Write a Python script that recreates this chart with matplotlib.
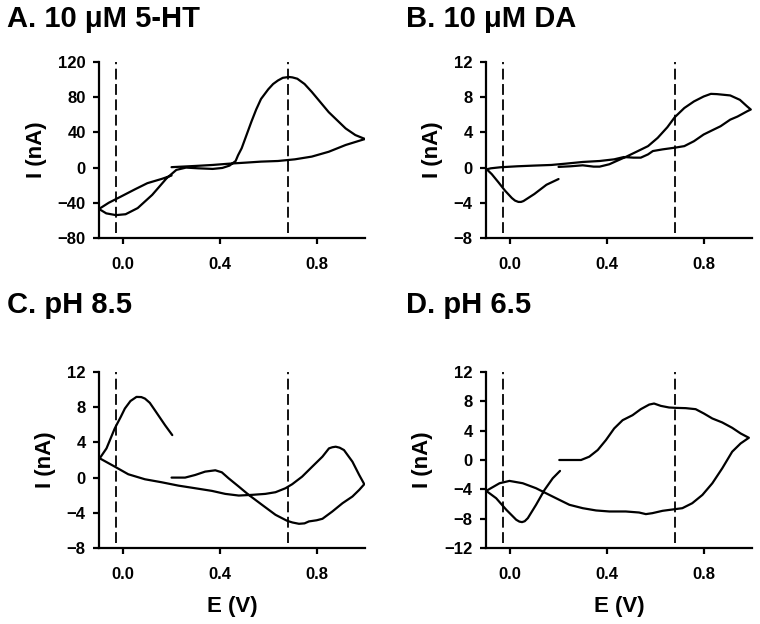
import numpy as np
import matplotlib
matplotlib.use('Agg')
import matplotlib.pyplot as plt

plt.rcParams['font.family'] = ['Liberation Sans', 'DejaVu Sans']
plt.rcParams['font.weight'] = 'bold'

# panel A: 10 uM 5-HT
e_5ht = [0.20, 0.30, 0.37, 0.44, 0.51, 0.57, 0.64, 0.71, 0.78, 0.85, 0.92, 1.00,
         0.96, 0.92, 0.85, 0.78, 0.75, 0.72, 0.70, 0.685, 0.66, 0.64, 0.62, 0.60,
         0.57, 0.55, 0.53, 0.51, 0.49, 0.475, 0.465,
         0.44, 0.41, 0.37, 0.31, 0.26, 0.22, 0.18, 0.12, 0.06, 0.01, -0.03, -0.07,
         -0.10, -0.06, -0.01, 0.05, 0.10, 0.16, 0.20]
i_5ht = [0.5, 1.9, 3.0, 4.5, 5.7, 6.8, 7.5, 9.4, 12.5, 18, 25.7, 32.5,
         37, 44.5, 63, 86, 95, 101, 102.5, 103, 102, 99, 95, 89,
         78, 66, 52, 37, 22, 14, 7.5,
         2.3, -0.4, -1.5, -0.8, 0, -2.6, -12, -31, -46, -53, -54, -52,
         -47, -40, -33, -24.5, -17.7, -12.8, -9]

# panel B: 10 uM DA
e_da = [0.20, 0.25, 0.30, 0.345, 0.37, 0.41, 0.44, 0.48, 0.52, 0.57, 0.61, 0.65,
        0.68, 0.72, 0.76, 0.80, 0.83, 0.855, 0.91, 0.95, 0.98, 0.995,
        0.98, 0.94, 0.91, 0.87, 0.84, 0.80, 0.76, 0.72, 0.68, 0.63, 0.59, 0.57,
        0.54, 0.51, 0.47, 0.43, 0.37, 0.30, 0.23, 0.17, 0.10, 0.03, -0.04, -0.08,
        -0.097, -0.076, -0.048, -0.021, 0.007, 0.02, 0.034, 0.045, 0.055, 0.10,
        0.15, 0.20]
i_da = [0.08, 0.15, 0.26, 0.11, 0.11, 0.38, 0.75, 1.24, 1.77, 2.44, 3.38, 4.59,
        5.71, 6.77, 7.52, 8.08, 8.38, 8.35, 8.2, 7.7, 6.95, 6.6,
        6.4, 5.8, 5.45, 4.7, 4.3, 3.76, 3.0, 2.44, 2.26, 2.07, 1.88, 1.5,
        1.13, 1.13, 1.2, 0.94, 0.75, 0.64, 0.45, 0.3, 0.23, 0.15, 0.04, -0.08,
        -0.19, -0.75, -1.69, -2.63, -3.46, -3.75, -3.9, -3.9, -3.8, -3.0,
        -1.95, -1.3]

# panel C: pH 8.5
e_ph85 = [0.20, 0.256, 0.298, 0.339, 0.381, 0.408, 0.436, 0.478, 0.519, 0.574, 0.63,
          0.678, 0.70, 0.727, 0.75, 0.768, 0.80, 0.824, 0.865, 0.907, 0.948, 0.976,
          0.997, 0.976, 0.948, 0.913, 0.895, 0.879, 0.865, 0.851, 0.824, 0.782, 0.74,
          0.699, 0.671, 0.63, 0.588, 0.533, 0.478, 0.422, 0.367, 0.298, 0.228, 0.159,
          0.09, 0.021, -0.035, -0.097, -0.069, -0.035, -0.01, 0.007, 0.03, 0.055,
          0.075, 0.09, 0.11, 0.131, 0.173, 0.203]
i_ph85 = [0, 0, 0.3, 0.68, 0.83, 0.6, -0.08, -1.02, -1.96, -3.09, -4.23,
          -4.91, -5.1, -5.25, -5.2, -4.98, -4.85, -4.68, -3.85, -2.91, -2.15, -1.4,
          -0.75, 0.3, 1.81, 3.13, 3.4, 3.51, 3.45, 3.32, 2.38, 1.25, 0.11,
          -0.75, -1.21, -1.66, -1.85, -1.96, -2.04, -1.85, -1.51, -1.21, -0.91, -0.53,
          -0.19, 0.38, 1.25, 2.19, 3.32, 5.58, 6.9, 7.85, 8.7, 9.17,
          9.15, 8.98, 8.5, 7.66, 5.96, 4.83]

# panel D: pH 6.5
e_ph65 = [0.203, 0.245, 0.293, 0.327, 0.362, 0.396, 0.43, 0.465, 0.506, 0.54, 0.575,
          0.595, 0.623, 0.657, 0.685, 0.726, 0.767, 0.801, 0.836, 0.877, 0.918, 0.953,
          0.987, 0.953, 0.918, 0.877, 0.836, 0.795, 0.753, 0.712, 0.671, 0.63, 0.588,
          0.561, 0.533, 0.478, 0.41, 0.355, 0.30, 0.245, 0.203, 0.162, 0.107, 0.052,
          -0.003, -0.044, -0.099, -0.058, -0.016, 0.025, 0.038, 0.049, 0.06, 0.073,
          0.107, 0.142, 0.176, 0.206]
i_ph65 = [0, 0, 0, 0.45, 1.36, 2.72, 4.3, 5.43, 6.11, 6.93, 7.56,
          7.7, 7.38, 7.16, 7.11, 7.07, 6.93, 6.34, 5.66, 5.12, 4.39, 3.62,
          3.03, 2.26, 1.13, -1.13, -3.17, -4.76, -5.89, -6.57, -6.75, -6.93, -7.25,
          -7.38, -7.16, -7.02, -7.02, -6.88, -6.57, -6.11, -5.43, -4.76, -3.85, -3.17,
          -2.85, -3.17, -4.21, -5.21, -6.79, -8.15, -8.4, -8.47, -8.35, -7.93,
          -6.11, -4.08, -2.49, -1.49]

titles = ['A. 10 \u03bcM 5-HT', 'B. 10 \u03bcM DA', 'C. pH 8.5', 'D. pH 6.5']
y_ranges = [(-80, 120, 40), (-8, 12, 4), (-8, 12, 4), (-12, 12, 4)]
x_ticks = [0.0, 0.4, 0.8]
dash_e = [-0.03, 0.68]

panels = [(e_5ht, i_5ht), (e_da, i_da), (e_ph85, i_ph85), (e_ph65, i_ph65)]

fig = plt.figure(figsize=(7.6, 6.24), dpi=100)
lefts = [99/760, 486/760]
bottoms = [1 - 238/624, 1 - 548/624]
w, h = 266/760, 176/624
title_x = [7/760, 406/760]
title_y = [1 - 27/624, 1 - 313/624]

for k, (e, i) in enumerate(panels):
    row, col = divmod(k, 2)
    ax = fig.add_axes([lefts[col], bottoms[row], w, h])
    lo, hi, step = y_ranges[k]
    for d in dash_e:
        ax.axvline(d, ymin=0.03, ymax=1, color='k', lw=1.3, linestyle=(0, (6, 2.5)))
    ax.plot(e, i, color='k', lw=1.6, solid_joinstyle='round', solid_capstyle='round')
    ax.set_xlim(-0.1, 1.0)
    ax.set_ylim(lo, hi)
    ax.set_yticks(np.arange(lo, hi + step, step))
    ax.set_xticks(x_ticks)
    ax.set_xticklabels(['%.1f' % t for t in x_ticks])
    for s in ['top', 'right']:
        ax.spines[s].set_visible(False)
    for s in ['left', 'bottom']:
        ax.spines[s].set_linewidth(1.6)
    ax.tick_params(axis='both', direction='out', length=4.5, width=1.6, labelsize=12)
    ax.tick_params(axis='x', pad=9)
    ax.tick_params(axis='y', pad=5)
    ax.set_ylabel('I (nA)', fontsize=16, fontweight='bold', labelpad=8)
    if row == 1:
        ax.set_xlabel('E (V)', fontsize=16, fontweight='bold', labelpad=10)
    fig.text(title_x[col], title_y[row], titles[k], fontsize=21, fontweight='bold',
             ha='left', va='baseline')

fig.savefig('out.png', dpi=100)
